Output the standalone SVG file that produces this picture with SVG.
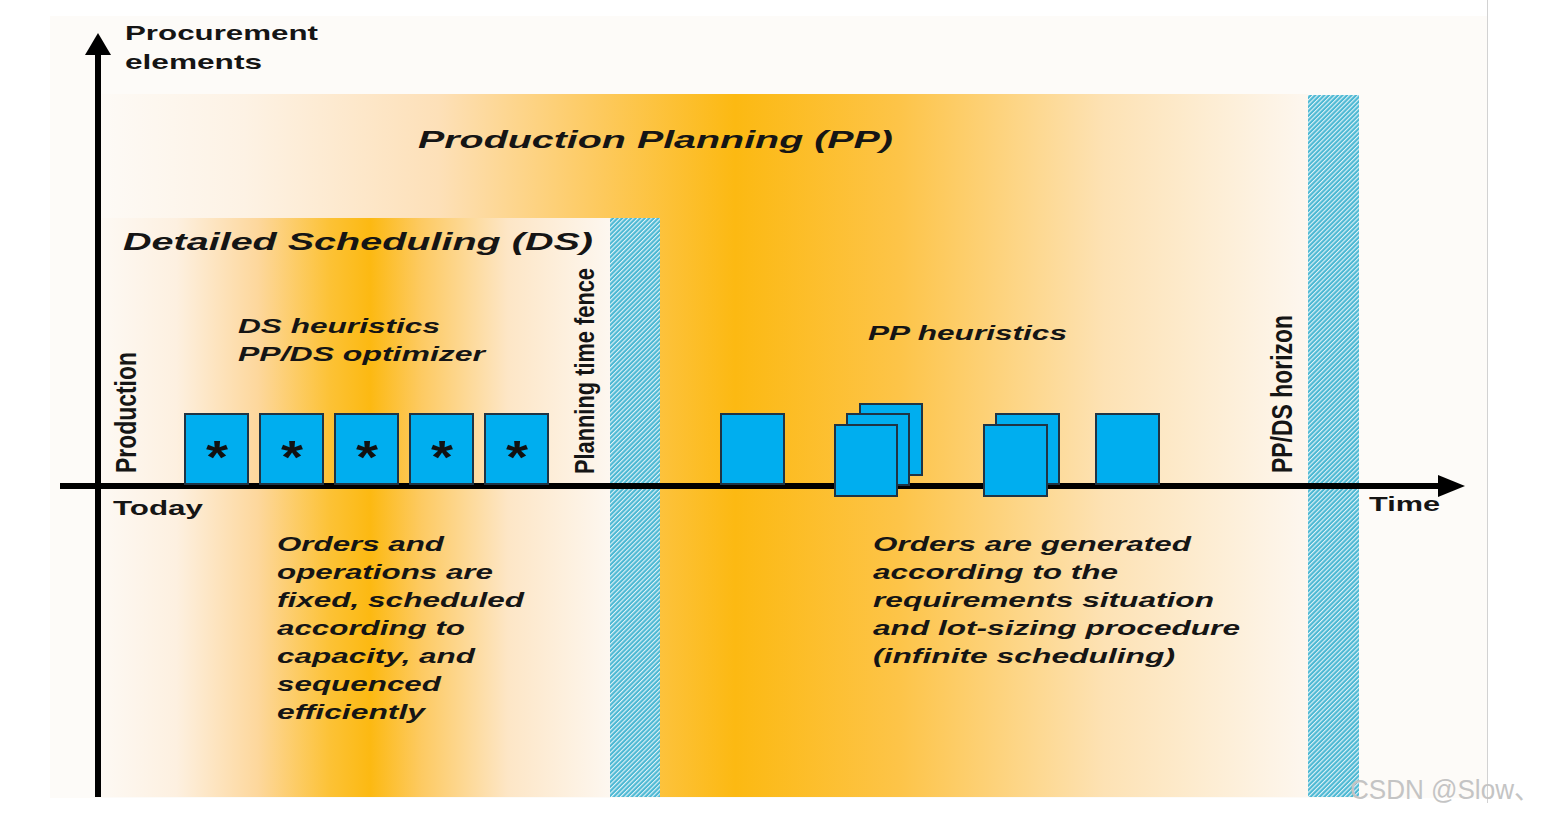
<svg xmlns="http://www.w3.org/2000/svg" width="1558" height="816" viewBox="0 0 1558 816">
<defs>
<style>
.t{font-family:"Liberation Sans",Arial,sans-serif;font-weight:bold;fill:#151515}
.i{font-style:italic}
.r{font-family:"Liberation Sans",Arial,sans-serif;font-weight:bold;fill:#151515}
.blk{fill:#00aeef;stroke:#203444;stroke-width:2}
.ast{font-family:"Liberation Sans",Arial,sans-serif;font-weight:bold;font-size:46px;fill:#111;text-anchor:middle}
</style>
<linearGradient id="gpp" gradientUnits="userSpaceOnUse" x1="100" y1="0" x2="1310" y2="0">
<stop offset="0" stop-color="#fdfaf6"/>
<stop offset="0.12" stop-color="#fdf2e4"/>
<stop offset="0.28" stop-color="#fde0b8"/>
<stop offset="0.41" stop-color="#fdca60"/>
<stop offset="0.525" stop-color="#fcb912"/>
<stop offset="0.66" stop-color="#fdc448"/>
<stop offset="0.83" stop-color="#fde2b4"/>
<stop offset="1" stop-color="#fdf7f0"/>
</linearGradient>
<linearGradient id="gds" gradientUnits="userSpaceOnUse" x1="100" y1="0" x2="610" y2="0">
<stop offset="0" stop-color="#fdf9f4"/>
<stop offset="0.15" stop-color="#fdf0e0"/>
<stop offset="0.31" stop-color="#fdd79c"/>
<stop offset="0.45" stop-color="#fcc236"/>
<stop offset="0.53" stop-color="#fcb912"/>
<stop offset="0.63" stop-color="#fdca62"/>
<stop offset="0.8" stop-color="#fde6c6"/>
<stop offset="1" stop-color="#fdf7f0"/>
</linearGradient>
<pattern id="hatch" patternUnits="userSpaceOnUse" width="3.2" height="3.2" patternTransform="rotate(-45)">
<rect width="3.2" height="3.2" fill="#4cb8d3"/>
<rect y="0" width="3.2" height="1.1" fill="#e2f3f8"/>
</pattern>
</defs>

<g id="background">
<rect x="50" y="16" width="1437" height="782" fill="#fdfbf8"/>
<line x1="1487.5" y1="0" x2="1487.5" y2="803" stroke="#d2d2d2" stroke-width="1"/>
</g>

<g id="pp-region">
<rect x="100" y="94" width="1208" height="703" fill="url(#gpp)"/>
<text class="t i" x="418" y="148" font-size="23" textLength="475" lengthAdjust="spacingAndGlyphs">Production Planning (PP)</text>
<text class="t i" x="868" y="340" font-size="20" textLength="199" lengthAdjust="spacingAndGlyphs">PP heuristics</text>
</g>

<g id="ds-region">
<rect x="100" y="218" width="510" height="579" fill="url(#gds)"/>
<text class="t i" x="123" y="250" font-size="23" textLength="470" lengthAdjust="spacingAndGlyphs">Detailed Scheduling (DS)</text>
<text class="t i" x="238" y="333" font-size="20" textLength="202" lengthAdjust="spacingAndGlyphs">DS heuristics</text>
<text class="t i" x="238" y="361" font-size="20" textLength="247" lengthAdjust="spacingAndGlyphs">PP/DS optimizer</text>
</g>

<g id="planning-time-fence">
<rect x="610" y="218" width="50" height="579" fill="url(#hatch)"/>
<text class="r" font-size="23" transform="translate(594,474) scale(1.2,1) rotate(-90)" textLength="206" lengthAdjust="spacingAndGlyphs">Planning time fence</text>
</g>

<g id="ppds-horizon">
<rect x="1308" y="95" width="51" height="702" fill="url(#hatch)"/>
<text class="r" font-size="24" transform="translate(1292,473) scale(1.25,1) rotate(-90)" textLength="158" lengthAdjust="spacingAndGlyphs">PP/DS horizon</text>
</g>

<g id="connectors">
<rect x="95" y="50" width="6" height="747" fill="#000"/>
<polygon points="98,33 85,55 111,55" fill="#000"/>
<rect x="60" y="483" width="1382" height="6" fill="#000"/>
<polygon points="1465,486 1438,475 1438,497" fill="#000"/>
</g>

<g id="axis-labels">
<text class="t" x="125" y="40" font-size="21" textLength="193" lengthAdjust="spacingAndGlyphs">Procurement</text>
<text class="t" x="125" y="69" font-size="21" textLength="137" lengthAdjust="spacingAndGlyphs">elements</text>
<text class="t" x="113" y="515" font-size="21" textLength="90" lengthAdjust="spacingAndGlyphs">Today</text>
<text class="t" x="1369" y="511" font-size="21" textLength="71" lengthAdjust="spacingAndGlyphs">Time</text>
<text class="r" font-size="24" transform="translate(136,473) scale(1.25,1) rotate(-90)" textLength="121" lengthAdjust="spacingAndGlyphs">Production</text>
</g>

<g id="ds-orders">
<rect class="blk" x="185" y="414" width="63" height="70"/>
<rect class="blk" x="260" y="414" width="63" height="70"/>
<rect class="blk" x="335" y="414" width="63" height="70"/>
<rect class="blk" x="410" y="414" width="63" height="70"/>
<rect class="blk" x="485" y="414" width="63" height="70"/>
<text class="ast" x="217" y="473" textLength="22" lengthAdjust="spacingAndGlyphs">*</text>
<text class="ast" x="292" y="473" textLength="22" lengthAdjust="spacingAndGlyphs">*</text>
<text class="ast" x="367" y="473" textLength="22" lengthAdjust="spacingAndGlyphs">*</text>
<text class="ast" x="442" y="473" textLength="22" lengthAdjust="spacingAndGlyphs">*</text>
<text class="ast" x="517" y="473" textLength="22" lengthAdjust="spacingAndGlyphs">*</text>
</g>

<g id="pp-orders">
<rect class="blk" x="721" y="414" width="63" height="70"/>
<rect class="blk" x="860" y="404" width="62" height="71"/>
<rect class="blk" x="847" y="414" width="62" height="71"/>
<rect class="blk" x="835" y="425" width="62" height="71"/>
<rect class="blk" x="996" y="414" width="63" height="70"/>
<rect class="blk" x="984" y="425" width="63" height="71"/>
<rect class="blk" x="1096" y="414" width="63" height="70"/>
</g>

<g id="ds-note">
<text class="t i" font-size="20" x="277" y="551" textLength="167" lengthAdjust="spacingAndGlyphs">Orders and</text>
<text class="t i" font-size="20" x="277" y="579" textLength="216" lengthAdjust="spacingAndGlyphs">operations are</text>
<text class="t i" font-size="20" x="277" y="607" textLength="247" lengthAdjust="spacingAndGlyphs">fixed, scheduled</text>
<text class="t i" font-size="20" x="277" y="635" textLength="188" lengthAdjust="spacingAndGlyphs">according to</text>
<text class="t i" font-size="20" x="277" y="663" textLength="198" lengthAdjust="spacingAndGlyphs">capacity, and</text>
<text class="t i" font-size="20" x="277" y="691" textLength="164" lengthAdjust="spacingAndGlyphs">sequenced</text>
<text class="t i" font-size="20" x="277" y="719" textLength="148" lengthAdjust="spacingAndGlyphs">efficiently</text>
</g>

<g id="pp-note">
<text class="t i" font-size="20" x="873" y="551" textLength="318" lengthAdjust="spacingAndGlyphs">Orders are generated</text>
<text class="t i" font-size="20" x="873" y="579" textLength="245" lengthAdjust="spacingAndGlyphs">according to the</text>
<text class="t i" font-size="20" x="873" y="607" textLength="341" lengthAdjust="spacingAndGlyphs">requirements situation</text>
<text class="t i" font-size="20" x="873" y="635" textLength="367" lengthAdjust="spacingAndGlyphs">and lot-sizing procedure</text>
<text class="t i" font-size="20" x="873" y="663" textLength="302" lengthAdjust="spacingAndGlyphs">(infinite scheduling)</text>
</g>

<g id="watermark">
<text x="1350" y="799" font-family="'Liberation Sans','Noto Sans CJK SC',sans-serif" font-size="28" fill="#c4c4c4" textLength="190" lengthAdjust="spacingAndGlyphs">CSDN @Slow、</text>
</g>
</svg>
